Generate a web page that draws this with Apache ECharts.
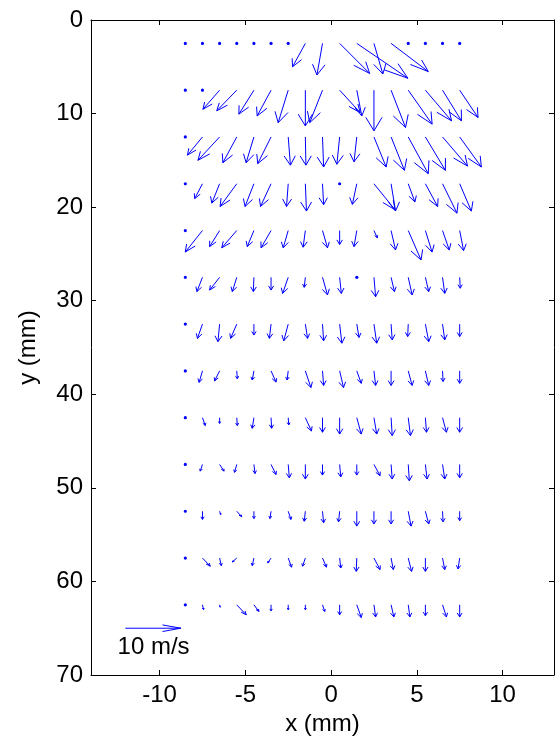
<!DOCTYPE html>
<html>
<head>
<meta charset="utf-8">
<script src="https://cdn.jsdelivr.net/npm/echarts@6/dist/echarts.min.js"></script>
<style>
  html, body { margin: 0; padding: 0; background: #fff; }
  #main { width: 556px; height: 747px; }
</style>
</head>
<body>
<div id="main"></div>
<script>
// grid positions (mm)
var xGrid = [-8.5, -7.5, -6.5, -5.5, -4.5, -3.5, -2.5, -1.5, -0.5, 0.5, 1.5, 2.5, 3.5, 4.5, 5.5, 6.5, 7.5]
var yGrid = [2.5, 7.5, 12.5, 17.5, 22.5, 27.5, 32.5, 37.5, 42.5, 47.5, 52.5, 57.5, 62.5]

// velocity components (m/s), one row per yGrid value
var U = [
  [0, 0, 0, 0, 0, 0, 0, -2.3, -1.0, 5.4, 9.2, 1.6, 6.7, 0, 0, 0, 0],
  [0, 0, -3.0, -3.6, -2.7, -2.5, -1.8, 0, -2.3, 3.7, 0.9, 0, 2.6, 4.3, 4.7, 3.4, 3.3],
  [0, -2.7, -3.9, -2.5, -1.4, -2.4, 0.4, 0.1, 0.2, -0.5, -0.5, 2.2, 2.4, 3.6, 3.6, 4.5, 3.9],
  [0, -1.4, -1.4, -3.0, -1.6, -1.9, -0.3, 0.2, 0.2, 0, -0.8, 3.8, 0.8, 1.2, 2.2, 2.6, 2.1],
  [0, -3.1, -1.8, -2.7, -1.2, -1.8, -0.9, -0.4, 0.9, 0, -0.5, 0.6, 0.8, 2.3, 1.2, 1.2, 0.7],
  [0, -1.0, -1.8, -0.8, -0.1, 0, -1.0, -0.2, 0.9, 0.3, 0, 0.3, 0.6, 0.7, 0.6, 0.4, 0.1],
  [0, -0.9, -0.3, -1.1, 0, -0.3, -0.8, 0.4, 0.2, 0.4, 0.4, 0.5, 0.2, -0.1, 0.6, 0.4, 0],
  [0, -0.6, -0.9, 0.1, -0.3, 0.9, -0.2, 1.0, 0.2, 0.7, 0.8, 0.3, 0, 0.7, 0.6, 0.1, 0],
  [0, 0.5, 0, 0.1, -0.3, 0.1, 0.1, 1.1, 0, 0, 0.8, 0.5, 0.2, 0.4, 0.2, 0.7, 0],
  [0, -0.4, 0.8, -0.4, 0.2, 0.9, 0.2, 0, 0, 0.2, 0, 1.1, 0.2, 0.2, 0.3, 0.4, 0],
  [0, 0, 0.2, 0.9, 0, -0.2, 0.5, -0.2, 0.2, -0.2, 0, 0, 0, 0.5, 0.6, 0.1, 0],
  [0, 1.4, 0.3, -0.8, -0.3, -0.6, 0.6, -0.5, 0.7, 0.2, -0.1, 1.1, 0.4, 0.6, 0, 0.4, -0.3],
  [0, 0.2, 0.1, 1.7, 0.9, 0, 0, 0, 0.4, 0, 0.8, 0.3, 0.5, 0.3, 0, 0.7, 0]
]
var V = [
  [0, 0, 0, 0, 0, 0, 0, 7.7, 10.4, 9.9, 11.5, 10.1, 9.3, 0, 0, 0, 0],
  [0, 0, 6.3, 6.8, 7.9, 8.5, 10.7, 11.8, 10.7, 7.4, 8.5, 13.4, 12.3, 11.2, 10.1, 10.1, 9.0],
  [0, 6.0, 7.7, 8.5, 8.5, 8.8, 9.3, 9.3, 9.9, 9.0, 8.2, 9.9, 11.0, 12.1, 11.0, 9.6, 9.9],
  [0, 4.9, 6.4, 7.5, 7.5, 7.5, 7.5, 9.0, 6.9, 0, 6.8, 8.6, 9.0, 6.0, 7.5, 9.7, 9.0],
  [0, 7.1, 5.3, 5.7, 5.3, 5.7, 5.7, 5.5, 5.7, 4.6, 5.3, 2.4, 6.4, 9.7, 7.1, 6.4, 6.6],
  [0, 4.7, 4.2, 4.7, 4.7, 4.2, 5.3, 3.3, 5.8, 5.3, 0, 6.4, 4.7, 5.8, 4.7, 5.3, 3.6],
  [0, 4.7, 5.8, 4.7, 3.6, 4.7, 5.5, 4.7, 5.5, 6.3, 4.4, 6.3, 5.2, 4.1, 5.8, 5.2, 4.1],
  [0, 3.8, 3.3, 2.6, 3.0, 3.7, 3.0, 5.5, 4.8, 5.5, 4.1, 4.8, 4.8, 4.8, 4.8, 3.5, 4.1],
  [0, 2.6, 1.9, 2.6, 3.5, 3.5, 2.4, 4.4, 4.8, 5.4, 5.4, 5.4, 5.9, 5.9, 4.8, 4.8, 4.8],
  [0, 2.2, 2.2, 2.6, 3.0, 3.3, 4.4, 4.8, 3.5, 4.1, 3.5, 3.7, 4.8, 5.4, 4.8, 4.8, 4.4],
  [0, 2.7, 1.1, 1.8, 2.4, 2.4, 2.7, 3.3, 3.8, 3.5, 4.9, 4.2, 4.2, 4.9, 4.2, 3.5, 3.1],
  [0, 2.7, 2.5, 1.3, 2.5, 1.6, 3.0, 2.7, 3.0, 3.3, 4.4, 3.8, 3.8, 4.4, 4.4, 3.8, 3.6],
  [0, 1.6, 0.8, 3.3, 2.2, 2.0, 1.6, 1.6, 2.2, 3.3, 4.2, 4.0, 4.0, 4.0, 3.6, 4.0, 4.0]
]

// reference arrow: x, y (mm), u, v (m/s)
var refArrow = [-12, 65, 10, 0]
var refLabel = '10 m/s'

var SCALE = 0.324 // arrow length in mm per m/s
var BLUE = '#0000ff'
var FONT = 'Liberation Sans'

var quiverData = []
for (var i = 0; i < yGrid.length; i++) {
  for (var j = 0; j < xGrid.length; j++) {
    quiverData.push([xGrid[j], yGrid[i], U[i][j], V[i][j]])
  }
}

// arrow like matlab quiver (head computed in data units)
function arrowShapes(api, x, y, u, v) {
  var alpha = 0.33, beta = 0.33
  var p0 = api.coord([x, y])
  var p1 = api.coord([x + u, y + v])
  var h1 = api.coord([x + u - alpha * (u + beta * v), y + v - alpha * (v - beta * u)])
  var h2 = api.coord([x + u - alpha * (u - beta * v), y + v - alpha * (v + beta * u)])
  var st = { stroke: BLUE, lineWidth: 1, fill: null }
  return [
    { type: 'line', shape: { x1: p0[0], y1: p0[1], x2: p1[0], y2: p1[1] }, style: st },
    { type: 'polyline', shape: { points: [h1, p1, h2] }, style: st }
  ]
}

function renderQuiver(params, api) {
  var x = api.value(0), y = api.value(1)
  var u = api.value(2) * SCALE, v = api.value(3) * SCALE
  if (u === 0 && v === 0) {
    var p = api.coord([x, y])
    return { type: 'circle', shape: { cx: p[0], cy: p[1], r: 1.6 }, style: { fill: BLUE } }
  }
  return { type: 'group', children: arrowShapes(api, x, y, u, v) }
}

function renderRef(params, api) {
  var x = api.value(0), y = api.value(1)
  var u = api.value(2) * SCALE, v = api.value(3) * SCALE
  var kids = arrowShapes(api, x, y, u, v)
  var t = api.coord([x + 1.65, y + 2.1])
  kids.push({
    type: 'text', x: t[0], y: t[1],
    style: { text: refLabel, fill: '#000', font: '24px "' + FONT + '"', align: 'center', verticalAlign: 'middle' }
  })
  return { type: 'group', children: kids }
}

var axisCommon = {
  axisLine: { show: true, onZero: false, lineStyle: { color: '#000', width: 1 } },
  axisTick: { show: true, inside: true, length: 5, lineStyle: { color: '#000' } },
  splitLine: { show: false }
}

var chart = echarts.init(document.getElementById('main'), null, { renderer: 'canvas' })
chart.setOption({
  backgroundColor: '#fff',
  animation: false,
  grid: { left: 91, right: 2, top: 20, bottom: 72, containLabel: false, outerBoundsMode: 'none' },
  xAxis: [
    Object.assign({
      type: 'value', min: -14, max: 13, splitNumber: 5, position: 'bottom',
      name: 'x (mm)', nameLocation: 'middle', nameGap: 34,
      nameTextStyle: { fontFamily: FONT, fontSize: 24, color: '#000' },
      axisLabel: {
        fontFamily: FONT, fontSize: 24, color: '#000', margin: 8,
        formatter: function (val) { return val % 5 === 0 ? String(val) : '' }
      }
    }, axisCommon),
    Object.assign({
      type: 'value', min: -14, max: 13, splitNumber: 5, position: 'top',
      axisLabel: { show: false }
    }, axisCommon)
  ],
  yAxis: [
    Object.assign({
      type: 'value', min: 0, max: 70, interval: 10, inverse: true, position: 'left',
      name: 'y (mm)', nameLocation: 'middle', nameGap: 51,
      nameTextStyle: { fontFamily: FONT, fontSize: 24, color: '#000' },
      axisLabel: { fontFamily: FONT, fontSize: 24, color: '#000', margin: 8 }
    }, axisCommon),
    Object.assign({
      type: 'value', min: 0, max: 70, interval: 10, inverse: true, position: 'right',
      axisLabel: { show: false }
    }, axisCommon)
  ],
  series: [
    {
      type: 'custom', xAxisIndex: 0, yAxisIndex: 0,
      renderItem: renderQuiver, data: quiverData,
      encode: { x: 0, y: 1 }, clip: false, silent: true
    },
    {
      type: 'custom', xAxisIndex: 0, yAxisIndex: 0,
      renderItem: renderRef, data: [refArrow],
      encode: { x: 0, y: 1 }, clip: false, silent: true
    }
  ]
})
</script>
</body>
</html>
